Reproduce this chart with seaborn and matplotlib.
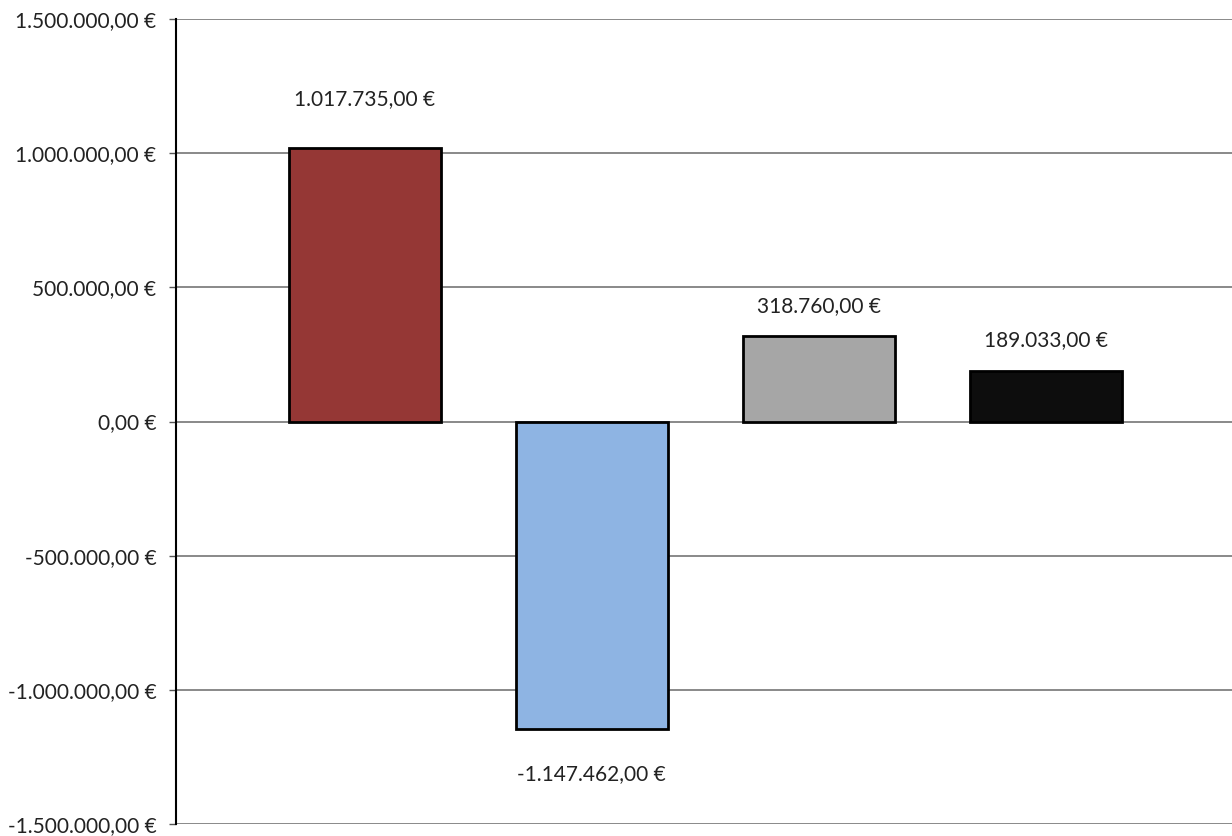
import matplotlib
matplotlib.use("Agg")
import matplotlib.pyplot as plt
import seaborn as sns

# Data
categories = ["A", "B", "C", "D"]
values = [1017735.00, -1147462.00, 318760.00, 189033.00]
colors = ["#953735", "#8EB4E3", "#A6A6A6", "#0D0D0D"]
yticks = [-1500000, -1000000, -500000, 0, 500000, 1000000, 1500000]


def euro(v):
    s = f"{v:,.2f}"
    s = s.replace(",", "X").replace(".", ",").replace("X", ".")
    return s + " €"


sns.set_style("white")
plt.rcParams["font.family"] = ["Lato", "DejaVu Sans"]

fig = plt.figure(figsize=(12.32, 8.36), dpi=100)
ax = fig.add_axes([176 / 1232, 12 / 836, 1056 / 1232, 805 / 836])

sns.barplot(x=categories, y=values, hue=categories, palette=colors,
            edgecolor="black", linewidth=2, width=0.67, legend=False,
            saturation=1, ax=ax, zorder=3)

ax.set_ylim(-1500000, 1500000)
ax.set_xlim(-0.833, 3.822)
ax.set_yticks(yticks)
ax.set_yticklabels([euro(t) for t in yticks])
ax.yaxis.grid(True, color="#808080", linewidth=1.3)
ax.set_axisbelow(True)
ax.set_xticks([])
ax.set_xlabel("")
ax.set_ylabel("")

for s in ["top", "right", "bottom"]:
    ax.spines[s].set_visible(False)
ax.spines["left"].set_color("black")
ax.spines["left"].set_linewidth(1.5)
ax.tick_params(axis="y", length=5, width=1, color="#555555", pad=9,
               labelsize=15, labelcolor="#222222", left=True)

# data labels
pads = [49, 45, 30, 31]
for i, v in enumerate(values):
    off = pads[i] if v >= 0 else -pads[i]
    ax.annotate(euro(v), xy=(i, v), xytext=(0, off * 0.72),
                textcoords="offset points", ha="center", va="center",
                fontsize=15, color="#222222")

fig.savefig("out.png", dpi=100)
